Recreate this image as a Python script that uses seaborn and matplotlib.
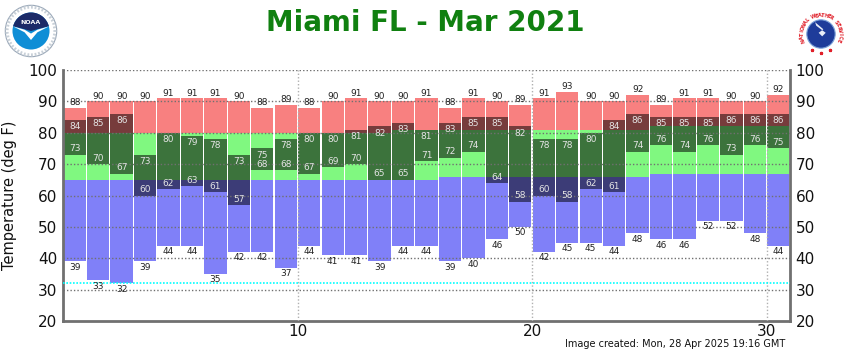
import numpy as np
import pandas as pd
import seaborn as sns
import matplotlib
matplotlib.use("Agg")
import matplotlib.pyplot as plt
from matplotlib.patches import Circle, Wedge, Polygon

# Daily climate data, Miami FL, March 2021 (deg F)
day = list(range(1, 32))
record_high = [88, 90, 90, 90, 91, 91, 91, 90, 88, 89, 88, 90, 91, 90, 90, 91,
               88, 91, 90, 89, 91, 93, 90, 90, 92, 89, 91, 91, 90, 90, 92]
observed_high = [84, 85, 86, 73, 80, 79, 78, 73, 75, 78, 80, 80, 81, 82, 83, 81,
                 83, 85, 85, 82, 78, 78, 80, 84, 86, 85, 85, 85, 86, 86, 86]
observed_low = [73, 70, 67, 60, 62, 63, 61, 57, 68, 68, 67, 69, 70, 65, 65, 71,
                72, 74, 64, 58, 60, 58, 62, 61, 74, 76, 74, 76, 73, 76, 75]
record_low = [39, 33, 32, 39, 44, 44, 35, 42, 42, 37, 44, 41, 41, 39, 44, 44,
              39, 40, 46, 50, 42, 45, 45, 44, 48, 46, 46, 52, 52, 48, 44]
normal_high = [80, 80, 80, 80, 80, 80, 80, 80, 80, 80, 80, 80, 80, 80, 81, 81,
               81, 81, 81, 81, 81, 81, 81, 81, 81, 82, 82, 82, 82, 82, 82]
normal_low = [65, 65, 65, 65, 65, 65, 65, 65, 65, 65, 65, 65, 65, 65, 65, 65,
              66, 66, 66, 66, 66, 66, 66, 66, 66, 67, 67, 67, 67, 67, 67]
y_ticks = [20, 30, 40, 50, 60, 70, 80, 90, 100]
x_tick_days = [10, 20, 30]
freezing = 32

title = "Miami FL - Mar 2021"
footer = "Image created: Mon, 28 Apr 2025 19:16 GMT"

df = pd.DataFrame(dict(day=day, rh=record_high, oh=observed_high, ol=observed_low,
                       rl=record_low, nh=normal_high, nl=normal_low))

# Segments of the observed range, split by the normal band
df["dr_lo"] = np.maximum(df.nh, df.ol)
df["dr_h"] = np.maximum(0, df.oh - df.dr_lo)
df["dg_lo"] = np.maximum(df.ol, df.nl)
df["dg_h"] = np.maximum(0, np.minimum(df.oh, df.nh) - df.dg_lo)
df["db_lo"] = df.ol
df["db_h"] = np.maximum(0, np.minimum(df.oh, df.nl) - df.ol)

sns.set_theme(style="white")
plt.rcParams["font.family"] = ["DejaVu Sans"]

fig = plt.figure(figsize=(8.5, 3.5), dpi=100)
ax = fig.add_axes([63 / 850, 1 - 321 / 350, (790 - 63) / 850, (321 - 70) / 350])

LIGHT_RED, LIGHT_GREEN, LIGHT_BLUE = "#f88080", "#80f880", "#8080f8"
DARK_RED, DARK_GREEN, DARK_BLUE = "#773c3c", "#3c733c", "#3c3c77"
BAR_W = 0.95


def floating_bars(bottom, height, color):
    sns.barplot(data=df, x="day", y=height, bottom=df[bottom],
                color=color, saturation=1, width=BAR_W, errorbar=None,
                linewidth=0, ax=ax)


# Record high above normal high, normal band, record low below normal low
floating_bars("nh", df.rh - df.nh, LIGHT_RED)
floating_bars("nl", df.nh - df.nl, LIGHT_GREEN)
floating_bars("rl", df.nl - df.rl, LIGHT_BLUE)
# Observed daily range
floating_bars("dr_lo", df.dr_h, DARK_RED)
floating_bars("dg_lo", df.dg_h, DARK_GREEN)
floating_bars("db_lo", df.db_h, DARK_BLUE)

# Value labels
lab_kw = dict(ha="center", fontsize=6.5, textcoords="offset points", zorder=5)
for i, r in df.iterrows():
    ax.annotate(str(r.rh), (i, r.rh), xytext=(0, 0.5), va="bottom", color="#222222", **lab_kw)
    ax.annotate(str(r.rl), (i, r.rl), xytext=(0, -1), va="top", color="#222222", **lab_kw)
    ax.annotate(str(r.oh), (i, r.oh), xytext=(0, -1.5), va="top", color="#e4e4e4", **lab_kw)
    ax.annotate(str(r.ol), (i, r.ol), xytext=(0, 1), va="bottom", color="#e4e4e4", **lab_kw)

ax.set_xlim(-0.5, len(day) - 0.5)
ax.set_ylim(20, 100)
ax.set_yticks(y_ticks)
ax.set_xticks([d - 0.5 for d in x_tick_days])
ax.set_xticklabels([str(d) for d in x_tick_days])
ax.set_xlabel("")
ax.set_ylabel("Temperature (deg F)", fontsize=10.5, color="#111111", labelpad=8)

ax.tick_params(axis="both", length=0, labelsize=11, colors="#111111", pad=4)
ax.tick_params(axis="y", labelright=True, right=False)
ax.tick_params(axis="x", pad=2)

# Dotted grid drawn over the bars
for y in y_ticks[1:]:
    ax.axhline(y, color="#707070", lw=1.0, ls=(0, (1, 1.5)), zorder=3)
for d in x_tick_days:
    ax.axvline(d - 0.5, color="#b0b0b0", lw=1.0, ls=(0, (1, 1.5)), zorder=3)
ax.axhline(freezing, color="#00ffff", lw=1.2, ls=(0, (1, 1)), zorder=3)

for side in ("left", "right", "bottom"):
    ax.spines[side].set_visible(True)
    ax.spines[side].set_color("#707070")
    ax.spines[side].set_linewidth(2)
ax.spines["top"].set_visible(False)

fig.text(0.5, 1 - 23 / 350, title, ha="center", va="center", fontsize=20,
         fontweight="bold", color="#108010")
fig.text(785 / 850, 1 - 344 / 350, footer, ha="right", va="center", fontsize=7,
         color="#111111")

# NOAA emblem
la = fig.add_axes([4 / 850, 1 - 58 / 350, 54 / 850, 54 / 350])
la.set_xlim(-1.05, 1.05)
la.set_ylim(-1.05, 1.05)
la.set_aspect("equal")
la.axis("off")
la.add_patch(Circle((0, 0), 1.0, facecolor="white", edgecolor="#9aa8b8", lw=0.8))
la.add_patch(Circle((0, 0), 0.93, facecolor="none", edgecolor="#c8d0d8", lw=2.2, ls=(0, (0.6, 0.6))))
la.add_patch(Circle((0, 0), 0.72, facecolor="#0f8ed6", edgecolor="none"))
la.add_patch(Wedge((0, 0), 0.72, 15, 165, facecolor="#1c2a68", edgecolor="none"))
la.add_patch(Polygon([[-0.70, 0.18], [-0.25, -0.05], [0.0, -0.35], [0.25, -0.05], [0.70, 0.18],
                      [0.25, 0.05], [0.0, -0.10], [-0.25, 0.05]], closed=True,
                     facecolor="white", edgecolor="none"))
la.text(0, 0.35, "NOAA", ha="center", va="center", fontsize=4.5, color="white", fontweight="bold")

# NWS emblem
ra = fig.add_axes([795 / 850, 1 - 60 / 350, 52 / 850, 52 / 350])
ra.set_xlim(-1.1, 1.1)
ra.set_ylim(-1.1, 1.1)
ra.set_aspect("equal")
ra.axis("off")
ra.add_patch(Circle((0, 0), 1.0, facecolor="white", edgecolor="none"))
ra.add_patch(Circle((0, 0), 0.6, facecolor="#1e3c9a", edgecolor="#7aa0d8", lw=0.8))
ra.add_patch(Polygon([[-0.25, 0.5], [0.1, 0.2], [-0.1, 0.05], [0.3, -0.35], [0.05, -0.1],
                      [0.2, 0.05], [-0.2, 0.35]], closed=True, facecolor="#e8eef8",
                     edgecolor="none"))
ring = "NATIONAL WEATHER SERVICE"
angles = np.linspace(200, -20, len(ring))
for ch, a in zip(ring, angles):
    t = np.deg2rad(a)
    ra.text(0.8 * np.cos(t), 0.8 * np.sin(t), ch, ha="center", va="center", fontsize=3.6,
            color="#e0202a", fontweight="bold", rotation=a - 90)
for a in (240, 270, 300):
    t = np.deg2rad(a)
    ra.plot(0.8 * np.cos(t), 0.8 * np.sin(t), marker="*", color="#e0202a", ms=2.2)

fig.savefig("out.png", dpi=100)
